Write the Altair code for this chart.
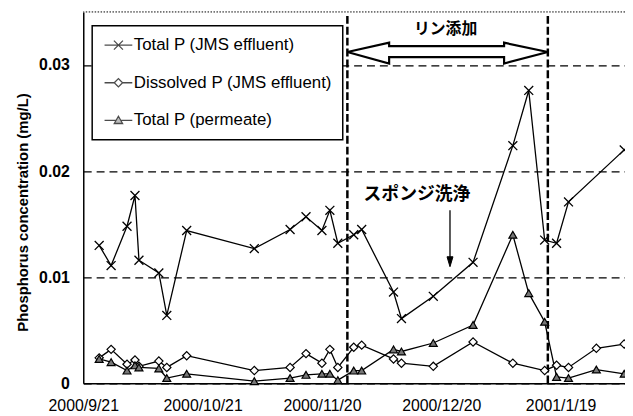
import altair as alt
import pandas as pd

# ---------------- data ----------------
series_names = ["Total P (JMS effluent)", "Dissolved P (JMS effluent)", "Total P (permeate)"]

tp_eff_dates = ["2000-09-25", "2000-09-28", "2000-10-02", "2000-10-04", "2000-10-05",
                "2000-10-10", "2000-10-12", "2000-10-17", "2000-11-03", "2000-11-12",
                "2000-11-16", "2000-11-20", "2000-11-22", "2000-11-24", "2000-11-28",
                "2000-11-30", "2000-12-08", "2000-12-10", "2000-12-18", "2000-12-28",
                "2001-01-07", "2001-01-11", "2001-01-15", "2001-01-18", "2001-01-21",
                "2001-02-04"]
tp_eff = [0.0130, 0.0111, 0.0148, 0.0177, 0.0116, 0.0104, 0.0064, 0.0144, 0.0127, 0.0145,
          0.0157, 0.0144, 0.0163, 0.0132, 0.0140, 0.0145, 0.0086, 0.0061, 0.0082, 0.0114,
          0.0224, 0.0276, 0.0135, 0.0132, 0.0171, 0.0220]

dp_eff_dates = ["2000-09-25", "2000-09-28", "2000-10-02", "2000-10-04", "2000-10-05",
                "2000-10-10", "2000-10-12", "2000-10-17", "2000-11-03", "2000-11-12",
                "2000-11-16", "2000-11-20", "2000-11-22", "2000-11-24", "2000-11-28",
                "2000-11-30", "2000-12-08", "2000-12-10", "2000-12-18", "2000-12-28",
                "2001-01-07", "2001-01-15", "2001-01-18", "2001-01-21", "2001-01-28",
                "2001-02-04"]
dp_eff = [0.0024, 0.0032, 0.0018, 0.0022, 0.0016, 0.0021, 0.0015, 0.0026, 0.0012, 0.0015,
          0.0028, 0.0019, 0.0032, 0.0015, 0.0034, 0.0036, 0.0023, 0.0019, 0.0016, 0.0039,
          0.0019, 0.0012, 0.0017, 0.0015, 0.0033, 0.0037]

tp_perm_dates = ["2000-09-25", "2000-09-28", "2000-10-02", "2000-10-04", "2000-10-05",
                 "2000-10-10", "2000-10-12", "2000-10-17", "2000-11-03", "2000-11-12",
                 "2000-11-16", "2000-11-20", "2000-11-22", "2000-11-24", "2000-11-28",
                 "2000-11-30", "2000-12-08", "2000-12-10", "2000-12-18", "2000-12-28",
                 "2001-01-07", "2001-01-11", "2001-01-15", "2001-01-18", "2001-01-21",
                 "2001-01-28", "2001-02-04"]
tp_perm = [0.0023, 0.0020, 0.0012, 0.0017, 0.0015, 0.0014, 0.0005, 0.0009, 0.0002, 0.0005,
           0.0008, 0.0009, 0.0009, 0.0003, 0.0012, 0.0012, 0.0032, 0.0030, 0.0038, 0.0055,
           0.0140, 0.0085, 0.0058, 0.0006, 0.0005, 0.0013, 0.0009]

x_tick_dates = ["2000-09-21", "2000-10-21", "2000-11-20", "2000-12-20", "2001-01-19"]
y_ticks = [0, 0.01, 0.02, 0.03]
y_max = 0.035

# annotation geometry (days after 2000-09-21, values in mg/L)
start_day = "2000-09-21"
x_end_day = 136.2
phase_days = [66.4, 116.8]              # phosphorus addition period (dashed lines)
phase_top = 0.0347
arrow_days = [66.4, 76.9, 76.9, 105.8, 105.8, 116.8, 105.8, 105.8, 76.9, 76.9, 66.4]
arrow_vals = [0.03122, 0.03210, 0.03177, 0.03177, 0.03210, 0.03122,
              0.03014, 0.03075, 0.03075, 0.03014, 0.03122]
label_add = "リン添加"
label_add_pos = (91.1, 0.0334)
label_sponge = "スポンジ洗浄"
label_sponge_pos = (83.9, 0.0177)
sponge_arrow_day = 92.2
sponge_arrow_vals = [0.01631, 0.01190]
sponge_head_val = 0.01146

# ---------------- helpers ----------------
t0 = pd.Timestamp(start_day, tz="UTC")


def ms(ts):
    return int(ts.value // 10**6)


def day_ms(d):
    return ms(t0 + pd.Timedelta(days=d))


def iso(d):
    return d + "T00:00:00Z"


rows = []
for name, ds, vs in [(series_names[0], tp_eff_dates, tp_eff),
                     (series_names[1], dp_eff_dates, dp_eff),
                     (series_names[2], tp_perm_dates, tp_perm)]:
    for d, v in zip(ds, vs):
        rows.append({"date": iso(d), "value": v, "series": name})
df = pd.DataFrame(rows)

FONT = "Liberation Sans"
JP = "Noto Sans CJK JP"

xscale = alt.Scale(type="utc", domain=[day_ms(0), day_ms(x_end_day)])
yscale = alt.Scale(domain=[0, y_max], nice=False, zero=True)

xaxis = alt.Axis(values=[ms(pd.Timestamp(d, tz="UTC")) for d in x_tick_dates],
                 labelExpr="utcFormat(datum.value, '%Y/%-m/%-d')",
                 title=None, grid=False, ticks=False, tickSize=0, labelPadding=14,
                 labelFlush=False, labelFont=FONT, labelFontSize=16, labelColor="black",
                 domainColor="black", domainWidth=1.5)
yaxis = alt.Axis(values=y_ticks,
                 labelExpr="datum.value == 0 ? '0' : format(datum.value, '.2f')",
                 title="Phosphorus concentration (mg/L)", titleFont=FONT, titleFontSize=15,
                 titleFontWeight="bold", titleColor="black", titlePadding=8, titleY=202,
                 grid=True, gridDash=[8, 5], gridColor="black", gridWidth=1.2,
                 ticks=False, tickSize=0, labelPadding=14, labelFont=FONT, labelFontSize=16,
                 labelFontWeight="bold", labelColor="black",
                 domainColor="black", domainWidth=1.5)


def X(field="date"):
    return alt.X(f"{field}:T", scale=xscale, axis=xaxis)


def Y(field="value"):
    return alt.Y(f"{field}:Q", scale=yscale, axis=yaxis)


# ---------------- layers ----------------
top_border = alt.Chart(pd.DataFrame({"value": [y_max]})).mark_rule(
    color="black", strokeWidth=1, strokeDash=[1.5, 1.5]).encode(y=Y())

phase_df = pd.DataFrame({"t": [day_ms(d) for d in phase_days],
                         "lo": [0, 0], "hi": [phase_top, phase_top]})
phase_lines = alt.Chart(phase_df).mark_rule(
    color="black", strokeWidth=2.5, strokeDash=[8, 3]).encode(
    x=X("t"), y=Y("lo"), y2="hi")

lines = alt.Chart(df).mark_line(color="black", strokeWidth=1.3).encode(
    x=X(), y=Y(), detail="series:N")

x_path = "M-1,-1L1,1M-1,1L1,-1"
pts_tp = alt.Chart(df).transform_filter(alt.datum.series == series_names[0]).mark_point(
    shape=x_path, size=81, filled=False, stroke="black", strokeWidth=1.3, opacity=1).encode(
    x=X(), y=Y())
pts_dp = alt.Chart(df).transform_filter(alt.datum.series == series_names[1]).mark_point(
    shape="diamond", size=70, filled=True, fill="white", stroke="black", strokeWidth=1.2,
    opacity=1).encode(x=X(), y=Y())
pts_perm = alt.Chart(df).transform_filter(alt.datum.series == series_names[2]).mark_point(
    shape="triangle-up", size=64, filled=True, fill="#777777", stroke="black",
    strokeWidth=1.2, opacity=1).encode(x=X(), y=Y())

legend_paths = [
    "M-2,0H2M-0.65,-0.65L0.65,0.65M-0.65,0.65L0.65,-0.65",
    "M-2,0H-0.6M0.6,0H2M-0.6,0L0,-0.6L0.6,0L0,0.6Z",
    "M-2,0H-0.34M0.34,0H2M0,-0.6L0.6,0.45L-0.6,0.45Z",
]
leg = alt.Legend(title=None, orient="none", legendX=9, legendY=14, padding=11,
                 fillColor="white", strokeColor="black", rowPadding=20,
                 symbolSize=196, symbolOffset=7, labelOffset=7, labelLimit=400,
                 symbolStrokeColor="black", symbolStrokeWidth=1.3,
                 labelFont=FONT, labelFontSize=17, labelColor="black")
legend_layer = alt.Chart(df).transform_filter("datum.value < 0").mark_point(
    filled=True, strokeWidth=1.3).encode(
    x=X(), y=Y(),
    shape=alt.Shape("series:N", scale=alt.Scale(domain=series_names, range=legend_paths),
                    legend=leg),
    fill=alt.Fill("series:N", scale=alt.Scale(domain=series_names,
                                              range=["transparent", "white", "#777777"]),
                  legend=leg),
    stroke=alt.Stroke("series:N", scale=alt.Scale(domain=series_names,
                                                  range=["black", "black", "black"]),
                      legend=leg))

arrow_df = pd.DataFrame({"t": [day_ms(d) for d in arrow_days], "value": arrow_vals,
                         "i": list(range(len(arrow_days)))})
big_arrow = alt.Chart(arrow_df).mark_line(color="black", strokeWidth=2.2,
                                          strokeJoin="miter").encode(
    x=X("t"), y=Y(), order="i:Q")

txt_df = pd.DataFrame({"t": [day_ms(label_add_pos[0]), day_ms(label_sponge_pos[0])],
                       "value": [label_add_pos[1], label_sponge_pos[1]],
                       "label": [label_add, label_sponge],
                       "fs": [16, 18]})
texts = alt.Chart(txt_df).mark_text(font=JP, fontWeight="bold", color="black",
                                    align="center", baseline="middle").encode(
    x=X("t"), y=Y(), text="label:N", size=alt.Size("fs:Q", scale=None, legend=None))

sp_df = pd.DataFrame({"t": [day_ms(sponge_arrow_day)], "lo": [sponge_arrow_vals[1]],
                      "hi": [sponge_arrow_vals[0]], "head": [sponge_head_val]})
sponge_line = alt.Chart(sp_df).mark_rule(color="black", strokeWidth=1.3).encode(
    x=X("t"), y=Y("lo"), y2="hi")
sponge_head = alt.Chart(sp_df).mark_point(shape="M-0.6,-1L0.6,-1L0,1Z", size=100,
                                          filled=True, fill="black", stroke="black",
                                          strokeWidth=1, opacity=1).encode(
    x=X("t"), y=Y("head"))

chart = alt.layer(
    top_border, phase_lines, lines, pts_tp, pts_dp, pts_perm, legend_layer,
    big_arrow, texts, sponge_line, sponge_head
).properties(
    width=547, height=375,
    autosize=alt.AutoSizeParams(type="none"),
    padding={"left": 76, "top": 2, "right": 0, "bottom": 30},
    background="white",
).configure_view(stroke=None).configure_legend(strokeWidth=1.5)

chart.save("out.html", embed_options={"renderer": "svg", "actions": False})
